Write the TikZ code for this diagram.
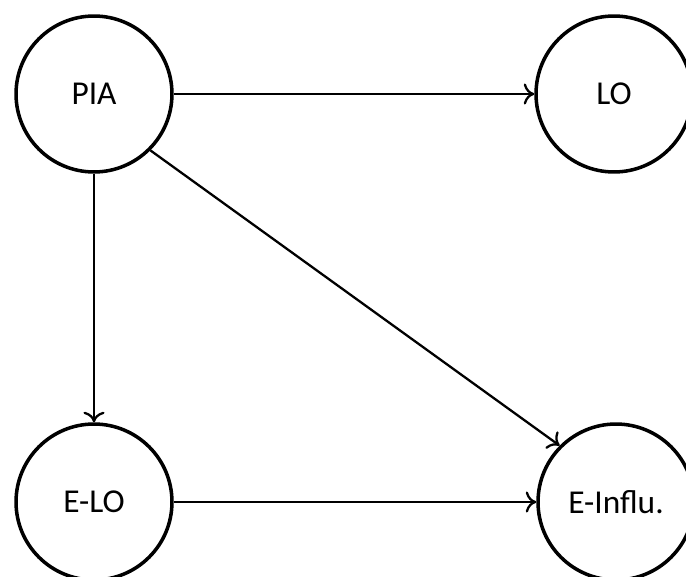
\documentclass[tikz,border=0pt]{standalone}
\usepackage{fontspec}
\setmainfont{Carlito}
\usetikzlibrary{arrows.meta}
\begin{document}
\begin{tikzpicture}[x=0.02cm,y=-0.02cm,
  state/.style={draw,circle,line width=2pt,minimum size=3.12cm,inner sep=0pt,font=\fontsize{19}{23}\selectfont},
  link/.style={line width=1.3pt,-{To[length=6pt,width=12pt]}}]
\useasboundingbox (0,0) rectangle (686,577);
\clip (0,0) rectangle (686,577);
\node[state] (pia) at (94,94) {PIA};
\node[state] (lo) at (614,94) {LO};
\node[state] (elo) at (94,502) {E-LO};
\node[state] (einf) at (616,502) {E-Influ.};
\draw[link] (pia) -- (lo);
\draw[link] (pia) -- (elo);
\draw[link] (pia.-45) -- (einf.135);
\draw[link] (elo) -- (einf);
\end{tikzpicture}
\end{document}
